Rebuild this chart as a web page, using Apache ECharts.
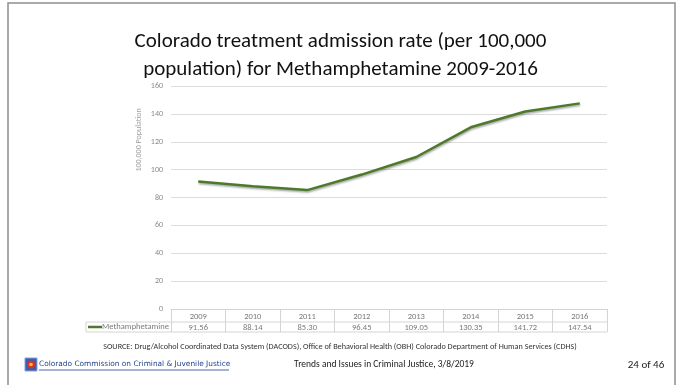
<!DOCTYPE html>
<html><head><meta charset="utf-8">
<script src="https://cdn.jsdelivr.net/npm/echarts@6/dist/echarts.min.js"></script>
<style>html,body{margin:0;padding:0;background:#fff}#c{width:681px;height:385px}</style>
</head><body><div id="c"></div>
<script>
const categories = ['2009','2010','2011','2012','2013','2014','2015','2016'];
const methValues = [91.56, 88.14, 85.30, 96.45, 109.05, 130.35, 141.72, 147.54];
const seriesName = 'Methamphetamine';
const yTicks = [0, 20, 40, 60, 80, 100, 120, 140, 160];
const titleText = 'Colorado treatment admission rate (per 100,000\npopulation) for Methamphetamine 2009-2016';
const yAxisTitle = '100,000 Population';
const sourceText = 'SOURCE: Drug/Alcohol Coordinated Data System (DACODS), Office of Behavioral Health (OBH) Colorado Department of Human Services (CDHS)';
const footerLeft = 'Colorado Commission on Criminal & Juvenile Justice';
const footerMid = 'Trends and Issues in Criminal Justice, 3/8/2019';
const footerRight = '24 of 46';

const W = 681, H = 385;
const GL = 171, GR = 607, GT = 86, GB = 309;
const ROW1 = 322, ROW2 = 332, KEYL = 86;
const FONT = "'Liberation Sans Narrow', Carlito, Lato, sans-serif";
const border = '#d4d4d4';

const chart = echarts.init(document.getElementById('c'), null, {renderer: 'canvas'});
chart.setOption({
  animation: false,
  backgroundColor: '#fff',
  title: {
    text: titleText, left: 'center', top: 23,
    textStyle: {fontFamily: FONT, fontSize: 21, fontWeight: 'normal', color: '#111', lineHeight: 28}
  },
  grid: {left: GL, right: W - GR, top: GT, bottom: H - GB, containLabel: false},
  xAxis: {
    type: 'category', data: categories, boundaryGap: true,
    axisLine: {lineStyle: {color: border, width: 1}},
    axisTick: {show: true, inside: false, length: ROW2 - GB, lineStyle: {color: border}},
    axisLabel: {
      margin: 2, interval: 0,
      formatter: (v, i) => '{y|' + v + '}\n{v|' + methValues[i].toFixed(2) + '}',
      rich: {
        y: {fontFamily: FONT, fontSize: 8.5, color: '#7a7a7a', lineHeight: 11},
        v: {fontFamily: FONT, fontSize: 8.5, color: '#7a7a7a', lineHeight: 11}
      }
    }
  },
  yAxis: {
    type: 'value', min: yTicks[0], max: yTicks[yTicks.length - 1], interval: yTicks[1] - yTicks[0],
    axisLine: {show: false}, axisTick: {show: false},
    axisLabel: {margin: 8, fontFamily: FONT, fontSize: 8, color: '#8a8a8a'},
    splitLine: {lineStyle: {color: '#dcdcdc', width: 1}}
  },
  series: [{
    name: seriesName, type: 'line', data: methValues, symbol: 'none',
    lineStyle: {color: '#4d7a2a', width: 2.5, shadowColor: 'rgba(0,0,0,0.35)', shadowBlur: 2, shadowOffsetY: 1.5, shadowOffsetX: 0.5}
  }],
  graphic: [
    {type: 'rect', shape: {x: 8, y: 3, width: 667, height: 400}, style: {fill: 'none', stroke: '#8f8f8f', lineWidth: 1.5}, silent: true},
    {type: 'line', shape: {x1: KEYL, y1: ROW1, x2: GR, y2: ROW1}, style: {stroke: border, lineWidth: 1}},
    {type: 'line', shape: {x1: KEYL, y1: ROW2, x2: GR, y2: ROW2}, style: {stroke: border, lineWidth: 1}},
    {type: 'line', shape: {x1: KEYL, y1: ROW1, x2: KEYL, y2: ROW2}, style: {stroke: border, lineWidth: 1}},
    {type: 'line', shape: {x1: KEYL + 2, y1: (ROW1 + ROW2) / 2, x2: KEYL + 16, y2: (ROW1 + ROW2) / 2}, style: {stroke: '#4d7a2a', lineWidth: 2.5}},
    {type: 'text', x: GL - 2, y: (ROW1 + ROW2) / 2, style: {text: seriesName, fontFamily: FONT, fontSize: 8.5, fill: '#7a7a7a', align: 'right', verticalAlign: 'middle'}},
    {type: 'text', x: 139, y: 140, rotation: Math.PI / 2, style: {text: yAxisTitle, fontFamily: FONT, fontSize: 8, fill: '#a0a0a0', align: 'center', verticalAlign: 'middle'}},
    {type: 'text', x: 340, y: 347, style: {text: sourceText, fontFamily: FONT, fontSize: 8.2, fill: '#333', align: 'center', verticalAlign: 'middle'}},
    {type: 'rect', shape: {x: 25, y: 358, width: 12, height: 13}, style: {fill: '#3a5fb0', stroke: '#8aa0d8', lineWidth: 1}},
    {type: 'circle', shape: {cx: 31, cy: 364.5, r: 4}, style: {fill: '#d8332a'}},
    {type: 'circle', shape: {cx: 31, cy: 364.5, r: 1.8}, style: {fill: '#f2c531'}},
    {type: 'text', x: 39, y: 364.5, style: {text: footerLeft, fontFamily: 'DejaVu Sans', fontSize: 7.4, fill: '#1f3f8f', align: 'left', verticalAlign: 'middle'}},
    {type: 'line', shape: {x1: 39, y1: 370, x2: 229, y2: 370}, style: {stroke: '#1f3f8f', lineWidth: 0.8}},
    {type: 'text', x: 384, y: 365, style: {text: footerMid, fontFamily: FONT, fontSize: 9.5, fill: '#222', align: 'center', verticalAlign: 'middle'}},
    {type: 'text', x: 646, y: 365, style: {text: footerRight, fontFamily: FONT, fontSize: 11, fill: '#222', align: 'center', verticalAlign: 'middle'}}
  ]
});
</script></body></html>
